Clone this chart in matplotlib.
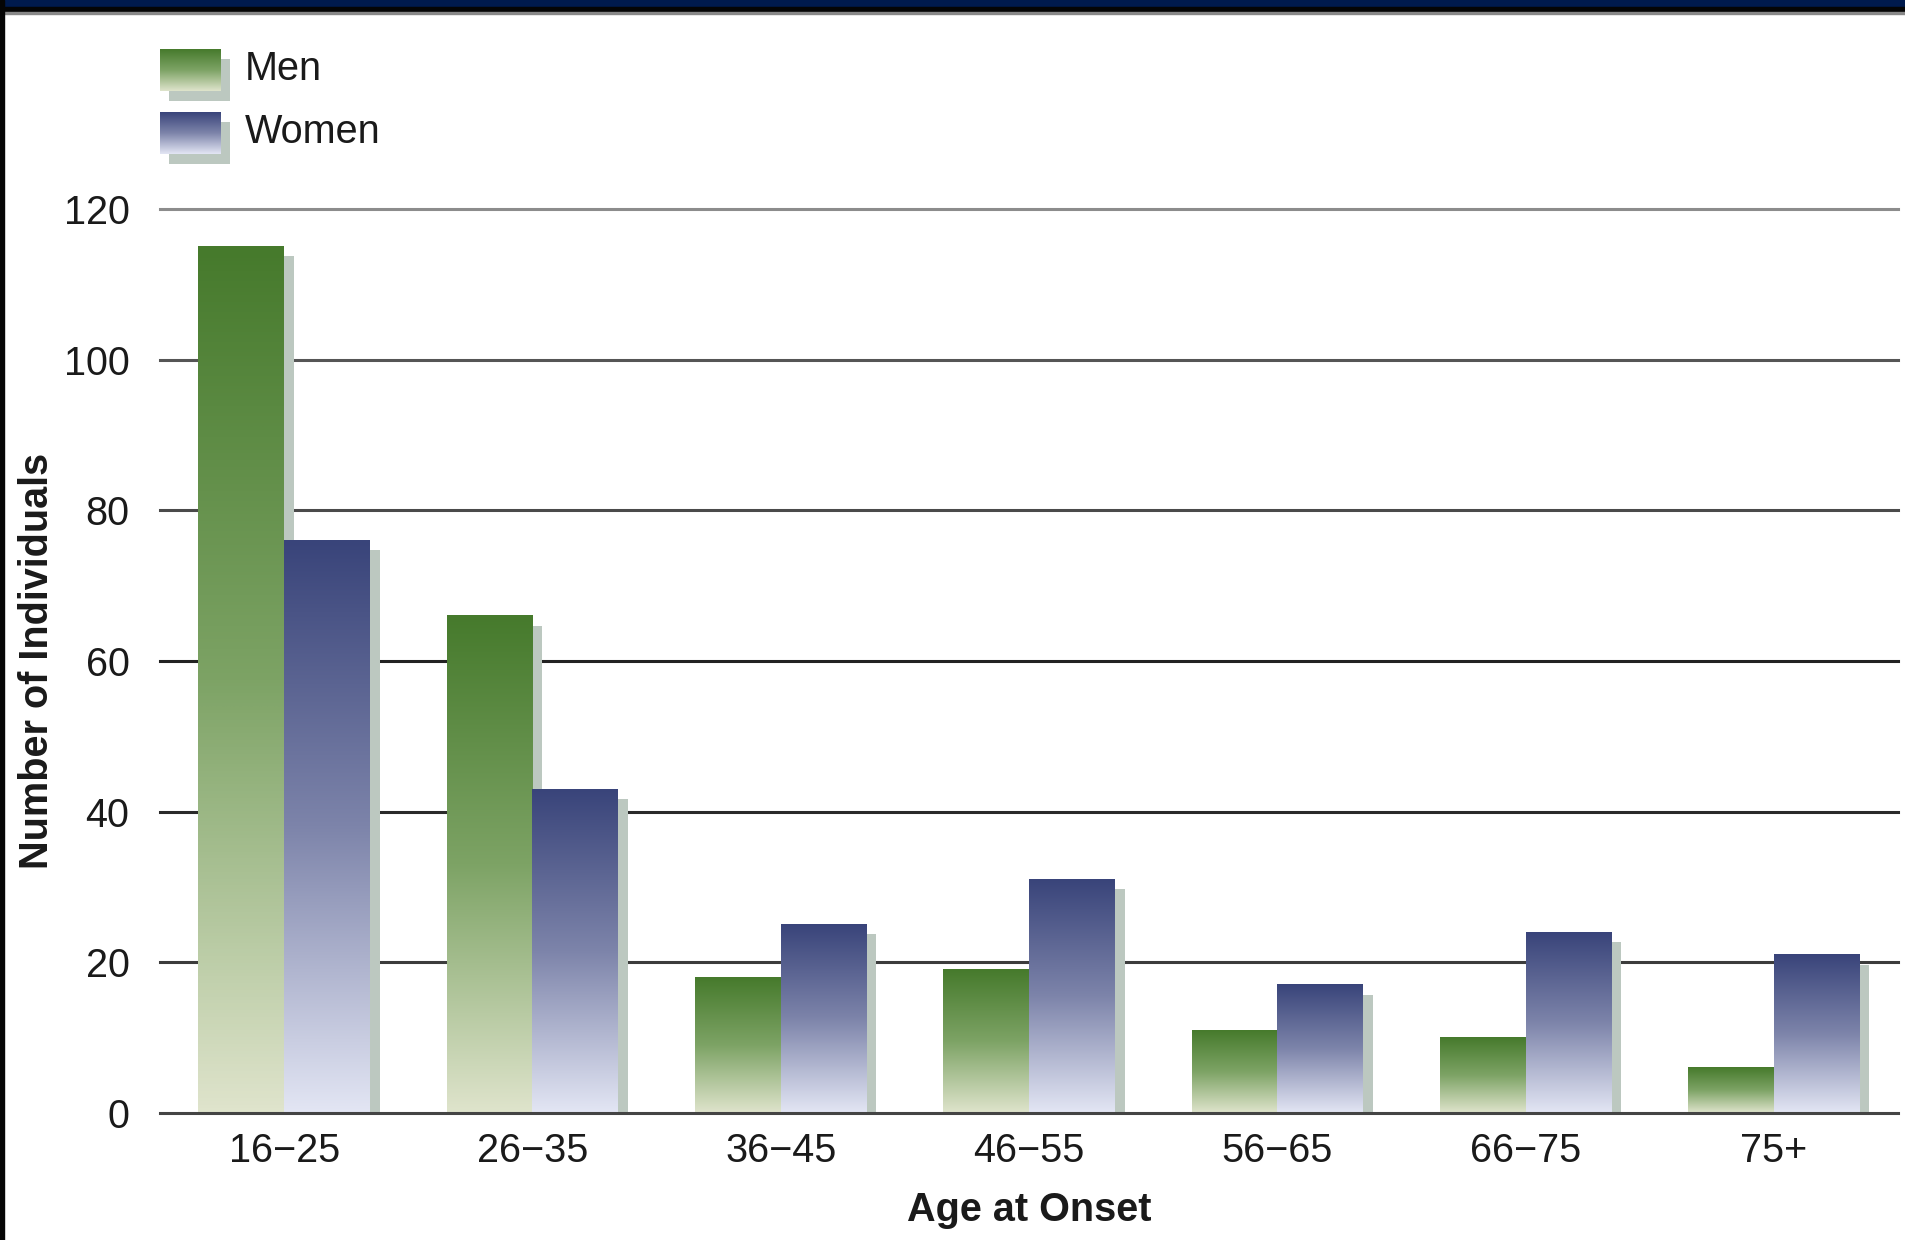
import numpy as np
import matplotlib.pyplot as plt
from matplotlib.colors import LinearSegmentedColormap
from matplotlib.patches import Rectangle

age_groups = ["16\u221225", "26\u221235", "36\u221245", "46\u221255", "56\u221265", "66\u221275", "75+"]
men = [115, 66, 18, 19, 11, 10, 6]
women = [76, 43, 25, 31, 17, 24, 21]
y_ticks = [0, 20, 40, 60, 80, 100, 120]
grid_colors = ["#444444", "#3c3c3c", "#2a2a2a", "#222222", "#4a4a4a", "#555555", "#8c8c8c"]

W, H = 1905, 1240

green = LinearSegmentedColormap.from_list("green", ["#dfe4cc", "#7da365", "#467a2c"])
blue = LinearSegmentedColormap.from_list("blue", ["#e3e6f4", "#7d84aa", "#39447a"])
shadow_col = "#bcc8c0"
grad = np.linspace(0, 1, 256).reshape(-1, 1)

plt.rcParams["font.family"] = ["Liberation Sans", "DejaVu Sans"]


def main():
    fig = plt.figure(figsize=(W / 100, H / 100), dpi=100)
    fig.patch.set_facecolor("white")

    # window frame: navy strip, black edge, left border
    fig.patches.append(Rectangle((0, 1 - 7 / H), 1, 7 / H, transform=fig.transFigure, color="#001a4d", zorder=0))
    fig.patches.append(Rectangle((0, 1 - 12 / H), 1, 5 / H, transform=fig.transFigure, color="#050505", zorder=0))
    fig.patches.append(Rectangle((0, 1 - 13.5 / H), 1, 1.5 / H, transform=fig.transFigure, color="#888888", zorder=0))
    fig.patches.append(Rectangle((0, 0), 4 / W, 1, transform=fig.transFigure, color="#050505", zorder=0))

    ax = fig.add_axes([160 / W, 1 - 1113 / H, (1898 - 160) / W, (1113 - 209) / H])
    bw = 0.345
    sdx, sdy = 0.04, 1.3
    x = np.arange(len(age_groups))

    for i in x:
        for j, (vals, cmap) in enumerate([(men, green), (women, blue)]):
            v = vals[i]
            x0 = i - bw + j * bw
            ax.add_patch(Rectangle((x0 + sdx, 0), bw, max(v - sdy, 0), color=shadow_col, lw=0, zorder=2))
            ax.imshow(grad, extent=[x0, x0 + bw, 0, v], origin="lower", cmap=cmap,
                      aspect="auto", interpolation="bicubic", zorder=3 + j * 0.1)

    for t, c in zip(y_ticks, grid_colors):
        ax.axhline(t, color=c, lw=2.2, zorder=1 if t else 4, clip_on=False)

    ax.set_xlim(-0.5, len(age_groups) - 0.5)
    ax.set_ylim(0, 120)
    ax.set_xticks(x)
    ax.set_xticklabels(age_groups)
    ax.set_yticks(y_ticks)
    ax.tick_params(length=0, labelsize=28.5, colors="#1a1a1a")
    ax.tick_params(axis="x", pad=14)
    ax.tick_params(axis="y", pad=22)
    for s in ax.spines.values():
        s.set_visible(False)

    fig.text(1029 / W, 1 - 1210 / H, "Age at Onset", fontsize=28.5, fontweight="bold",
             ha="center", va="center", color="#1a1a1a")
    fig.text(37 / W, 1 - 661 / H, "Number of Individuals", fontsize=28.5, fontweight="bold",
             ha="center", va="center", rotation=90, color="#1a1a1a")

    # legend swatches with the same gradient and drop shadow
    for k, (name, cmap) in enumerate([("Men", green), ("Women", blue)]):
        top = 49 + k * 63
        sh = fig.add_axes([(160 + 9) / W, 1 - (top + 52) / H, 61 / W, 42 / H])
        sh.add_patch(Rectangle((0, 0), 1, 1, color=shadow_col, lw=0))
        sh.set_axis_off()
        sh.set_zorder(1)
        sw = fig.add_axes([160 / W, 1 - (top + 42) / H, 61 / W, 42 / H])
        sw.imshow(grad, origin="lower", cmap=cmap, aspect="auto", interpolation="bicubic")
        sw.set_axis_off()
        sw.set_zorder(2)
        fig.text(245 / W, 1 - (top + 20) / H, name, fontsize=28.5, ha="left", va="center", color="#1a1a1a")

    fig.savefig("out.png", dpi=100)


if __name__ == "__main__":
    main()
